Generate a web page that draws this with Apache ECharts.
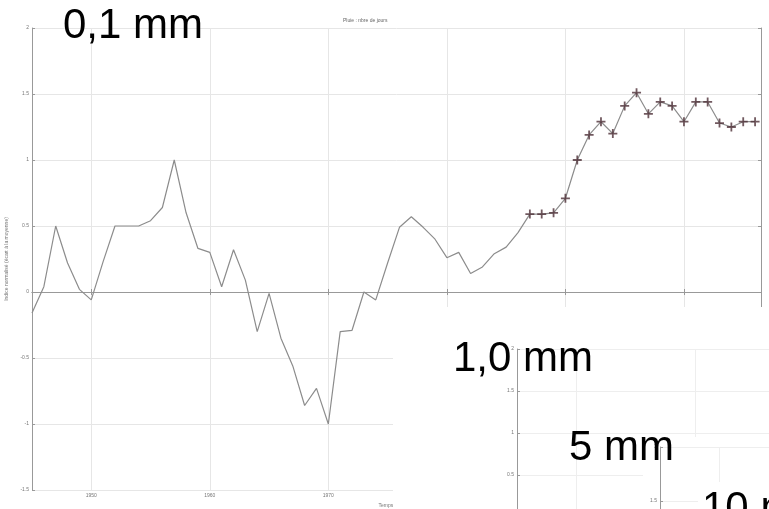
<!DOCTYPE html>
<html>
<head>
<meta charset="utf-8">
<script src="https://cdn.jsdelivr.net/npm/echarts@6/dist/echarts.min.js"></script>
<style>
  html, body { margin: 0; padding: 0; background: #fff; }
  #chart { width: 769px; height: 509px; }
</style>
</head>
<body>
<div id="chart"></div>
<script>
// yearly series, standardised index
const years = [1945, 1946, 1947, 1948, 1949, 1950, 1951, 1952, 1953, 1954,
  1955, 1956, 1957, 1958, 1959, 1960, 1961, 1962, 1963, 1964,
  1965, 1966, 1967, 1968, 1969, 1970, 1971, 1972, 1973, 1974,
  1975, 1976, 1977, 1978, 1979, 1980, 1981, 1982, 1983, 1984,
  1985, 1986, 1987, 1988, 1989, 1990, 1991, 1992, 1993, 1994,
  1995, 1996, 1997, 1998, 1999, 2000, 2001, 2002, 2003, 2004,
  2005, 2006];
const values = [-0.16, 0.04, 0.50, 0.22, 0.02, -0.06, 0.23, 0.50, 0.50, 0.50,
  0.54, 0.64, 1.00, 0.60, 0.33, 0.30, 0.04, 0.32, 0.09, -0.30,
  -0.01, -0.35, -0.56, -0.86, -0.73, -1.00, -0.30, -0.29, 0.00, -0.06,
  0.22, 0.49, 0.57, 0.49, 0.40, 0.26, 0.30, 0.14, 0.19, 0.29,
  0.34, 0.45, 0.59, 0.59, 0.60, 0.71, 1.00, 1.19, 1.29, 1.20,
  1.41, 1.51, 1.35, 1.44, 1.41, 1.29, 1.44, 1.44, 1.28, 1.25,
  1.29, 1.29];
const markFrom = 42;          // points from here on get a "+" marker
const panelLabels = ['0,1 mm', '1,0 mm', '5 mm', '10 mm'];

const xMin = 1945, xMax = 2006.5;
const yMin = -1.5, yMax = 2, yStep = 0.5;

const grey = '#999';
const gridCol = '#e6e6e6';
const small = { fontSize: 5, color: '#777', fontFamily: 'Liberation Sans' };

function xAx(grid, pos, opts) {
  return Object.assign({
    gridIndex: grid, type: 'value', position: pos, min: xMin, max: xMax, splitNumber: 6,
    axisLine: { lineStyle: { color: grey } },
    axisTick: { inside: true, length: 3, lineStyle: { color: grey } },
    axisLabel: { show: false },
    splitLine: { show: false }
  }, opts);
}
function yAx(grid, pos, opts) {
  return Object.assign({
    gridIndex: grid, type: 'value', position: pos, min: yMin, max: yMax, interval: yStep,
    axisLine: { show: true, lineStyle: { color: grey } },
    axisTick: { show: true, inside: true, length: 3, lineStyle: { color: grey } },
    axisLabel: { show: false },
    splitLine: { show: false }
  }, opts);
}

const chart = echarts.init(document.getElementById('chart'));
const option = {
  animation: false,
  title: {
    text: 'Pluie : nbre de jours', left: 338, top: 13,
    textStyle: { fontSize: 5, color: '#666', fontWeight: 'normal', fontFamily: 'Liberation Sans' }
  },
  grid: [
    { left: 32, top: 28, right: 8, bottom: 19, outerBoundsMode: 'none', containLabel: false },
    { left: 517, top: 349, width: 729, height: 294, outerBoundsMode: 'none', containLabel: false },
    { left: 660, top: 447, width: 729, height: 378, outerBoundsMode: 'none', containLabel: false }
  ],
  xAxis: [
    xAx(0, 'bottom', {
      axisLabel: Object.assign({ show: true, margin: 3, showMinLabel: false, showMaxLabel: false,
        formatter: v => String(v) }, small),
      splitLine: { show: true, lineStyle: { color: gridCol } },
      name: 'Temps (années)', nameLocation: 'middle', nameGap: 11, nameTextStyle: small
    }),
    xAx(0, 'top'),
    xAx(1, 'top', { z: 12, splitLine: { show: true, lineStyle: { color: '#eeeeee' } } }),
    xAx(2, 'top', { z: 22, splitLine: { show: true, lineStyle: { color: '#eeeeee' } } })
  ],
  yAxis: [
    yAx(0, 'left', {
      axisLabel: Object.assign({ show: true, margin: 3 }, small),
      splitLine: { show: true, lineStyle: { color: gridCol } },
      name: 'Indice normalisé (écart à la moyenne)', nameLocation: 'middle', nameGap: 18,
      nameTextStyle: small
    }),
    yAx(0, 'right'),
    yAx(1, 'left', {
      z: 12,
      axisLabel: Object.assign({ show: true, margin: 3 }, small),
      splitLine: { show: true, lineStyle: { color: '#eeeeee' } }
    }),
    yAx(2, 'left', {
      z: 22,
      axisLabel: Object.assign({ show: true, margin: 3 }, small),
      splitLine: { show: true, lineStyle: { color: '#eeeeee' } }
    })
  ],
  series: [
    {
      type: 'line', xAxisIndex: 0, yAxisIndex: 0, z: 2,
      data: years.map((y, i) => [y, values[i]]),
      showSymbol: false,
      lineStyle: { color: '#8c8c8c', width: 1.2 }
    },
    {
      type: 'scatter', xAxisIndex: 0, yAxisIndex: 0, z: 3,
      data: years.slice(markFrom).map((y, i) => [y, values[markFrom + i]]),
      symbol: 'path://M4,0h2v4h4v2h-4v4h-2v-4h-4v-2h4z',
      symbolSize: 9,
      itemStyle: { color: '#4e3037' }
    }
  ],
  graphic: [
    // pasted panels for the other thresholds
    { type: 'rect', z: 10, shape: { x: 393, y: 307, width: 376, height: 202 }, style: { fill: '#fff' } },
    { type: 'rect', z: 20, shape: { x: 643, y: 437, width: 126, height: 72 }, style: { fill: '#fff' } },
    { type: 'rect', z: 30, shape: { x: 698, y: 482, width: 71, height: 27 }, style: { fill: '#fff' } },
    { type: 'text', z: 100, x: 63, y: 26, style: { text: panelLabels[0], font: '42px "Liberation Sans"', fill: '#000', verticalAlign: 'middle', textVerticalAlign: 'middle' } },
    { type: 'text', z: 100, x: 453, y: 359, style: { text: panelLabels[1], font: '42px "Liberation Sans"', fill: '#000', verticalAlign: 'middle', textVerticalAlign: 'middle' } },
    { type: 'text', z: 100, x: 569, y: 448, style: { text: panelLabels[2], font: '42px "Liberation Sans"', fill: '#000', verticalAlign: 'middle', textVerticalAlign: 'middle' } },
    { type: 'text', z: 100, x: 702, y: 509, style: { text: panelLabels[3], font: '42px "Liberation Sans"', fill: '#000', verticalAlign: 'middle', textVerticalAlign: 'middle' } }
  ]
};
chart.setOption(option);
</script>
</body>
</html>
